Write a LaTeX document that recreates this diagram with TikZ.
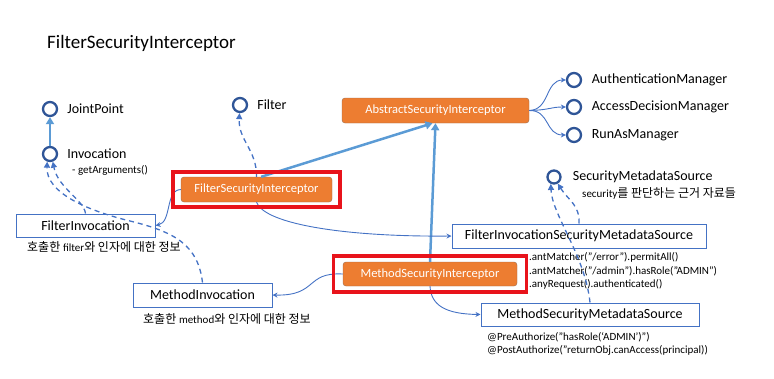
\documentclass[tikz,border=0pt]{standalone}
\usepackage{fontspec}
\setmainfont{Carlito}
\newfontfamily\kr{Noto Sans CJK KR}
\usetikzlibrary{arrows.meta,calc,fit,positioning}
\definecolor{boxorange}{HTML}{ED7D31}
\definecolor{boxedge}{HTML}{9C6A4C}
\definecolor{linkblue}{HTML}{4472C4}
\definecolor{heavyblue}{HTML}{5B9BD5}
\definecolor{ifaceblue}{HTML}{2F5597}
\definecolor{markred}{HTML}{E8131B}
\tikzset{
  iface/.style={circle, draw=ifaceblue, line width=2.3pt, minimum size=14pt, inner sep=0pt},
  lbl/.style={font=\fontsize{14}{16}\selectfont, inner sep=0pt, anchor=west},
  note/.style={font=\fontsize{11}{13}\selectfont, inner sep=0pt, anchor=west},
  krnote/.style={font=\fontsize{12}{14}\selectfont, inner sep=0pt, anchor=west},
  impl/.style={rectangle, rounded corners=3pt, fill=boxorange, draw=boxedge, text=white,
    font=\fontsize{12.5}{14}\selectfont, minimum height=25pt, inner sep=0pt},
  info/.style={rectangle, draw=linkblue, line width=1pt, font=\fontsize{14}{16}\selectfont,
    minimum height=24pt, inner sep=0pt},
  hilite/.style={draw=markred, line width=3.5pt},
  uses/.style={draw=linkblue, line width=0.9pt, -{Stealth[length=5pt,width=5pt]}},
  dep/.style={draw=linkblue, line width=1.3pt, dash pattern=on 5pt off 4pt, -{Triangle[length=6pt,width=6pt]}},
  extends/.style={draw=heavyblue, line width=2.5pt, -{Triangle[length=7pt,width=8pt]}},
}

\begin{document}
\begin{tikzpicture}[x=1pt,y=-1pt]
\useasboundingbox (0,0) rectangle (774,378);
\node[font=\fontsize{19}{22}\selectfont, anchor=west, inner sep=0pt] (title) at (47,43) {FilterSecurityInterceptor};

% interfaces
\node[iface] (jp) at (50,109) {};
\node[iface] (inv) at (50,154) {};
\node[iface] (flt) at (240,105) {};
\node[iface] (authm) at (574,80) {};
\node[iface] (accm) at (574,107) {};
\node[iface] (runm) at (574,135) {};
\node[iface, minimum size=13pt] (smds) at (554,177) {};
\node[lbl, right=9pt of jp] (jplbl) {JointPoint};
\node[lbl, right=9pt of inv] (invlbl) {Invocation};
\node[note] (invargs) at (72,170) {- getArguments()};
\node[lbl, right=9pt of flt] (fltlbl) {Filter};
\node[lbl, right=9.5pt of authm] (authlbl) {AuthenticationManager};
\node[lbl, right=9.5pt of accm] (acclbl) {AccessDecisionManager};
\node[lbl, right=9.5pt of runm] (runlbl) {RunAsManager};
\node[lbl, right=11pt of smds] (smdslbl) {SecurityMetadataSource};
\node[krnote] (smdsnote) at (582,193) {{\fontsize{11}{13}\selectfont security}{\kr 를 판단하는 근거 자료들}};

% classes
\node[impl, minimum width=187pt] (asi) at (435.5,110.5) {AbstractSecurityInterceptor};
\node[impl, minimum width=151pt] (fsi) at (256.5,189.5) {FilterSecurityInterceptor};
\node[impl, minimum width=174pt, minimum height=24pt] (msi) at (430,274) {MethodSecurityInterceptor};
\node[info, minimum width=139pt, minimum height=23pt] (fi) at (85.5,225.5) {FilterInvocation};
\node[info, minimum width=139pt] (mi) at (202.5,295) {MethodInvocation};
\node[info, minimum width=254pt] (fisms) at (579,236) {FilterInvocationSecurityMetadataSource};
\node[info, minimum width=218pt, minimum height=23pt] (msms) at (590,314.5) {MethodSecurityMetadataSource};

\node[krnote] (finote) at (27,247) {{\kr 호출한} {\fontsize{11}{13}\selectfont filter}{\kr 와 인자에 대한 정보}};
\node[krnote] (minote) at (143,319) {{\kr 호출한} {\fontsize{11}{13}\selectfont method}{\kr 와 인자에 대한 정보}};
\node[note] (rule1) at (529,257) {.antMatcher(”/error”).permitAll()};
\node[note] (rule2) at (529,271) {.antMatcher(”/admin”).hasRole(”ADMIN”)};
\node[note] (rule3) at (529,284) {.anyRequest().authenticated()};
\node[note] (pre) at (487,337) {@PreAuthorize(”hasRole(‘ADMIN’)”)};
\node[note] (post) at (487,350) {@PostAuthorize(”returnObj.canAccess(principal))};

% connectors
\coordinate (bend) at (130,221);
\draw[extends, line width=2pt] (inv) -- (jp);
\draw[extends] (fsi.70) -- ($(asi.south)+(-3,0)$);
\draw[extends] (msi.north) -- (asi.south);
\draw[dep] (fsi.north) .. controls (257,150) and (238,140) .. (flt);
\draw[dep] (fi.north) .. controls (84,200) and (58,188) .. (inv.-70);
\draw[dep] (mi.north) .. controls (198,245) and (175,232) .. (bend) .. controls (85,210) and (46,192) .. (inv.-110);
\draw[dep] (fisms.north) .. controls (580,205) and (568,200) .. (smds.-60);
\draw[dep] (msms.north) .. controls (585,255) and (552,215) .. (smds.-115);
\draw[uses] (fsi.south) .. controls (265,225) and (350,237) .. (fisms.west);
\draw[uses] (fsi.west) .. controls (165,190) and (172,222) .. (fi.east);
\draw[uses] (msi.west) .. controls (305,272) and (318,296) .. (mi.east);
\draw[uses] (msi.south) .. controls (431,305) and (445,314) .. (msms.west);
\draw[uses] (asi.east) .. controls (550,110) and (545,80) .. (authm);
\draw[uses] (asi.east) .. controls (550,110) and (550,107) .. (accm);
\draw[uses] (asi.east) .. controls (550,110) and (545,135) .. (runm);

% highlights
\node[hilite, fit=(fsi), inner xsep=8pt, inner ysep=5pt] (fsimark) {};
\node[hilite, fit=(msi), inner xsep=9.5pt, inner ysep=6pt] (msimark) {};
\end{tikzpicture}
\end{document}
